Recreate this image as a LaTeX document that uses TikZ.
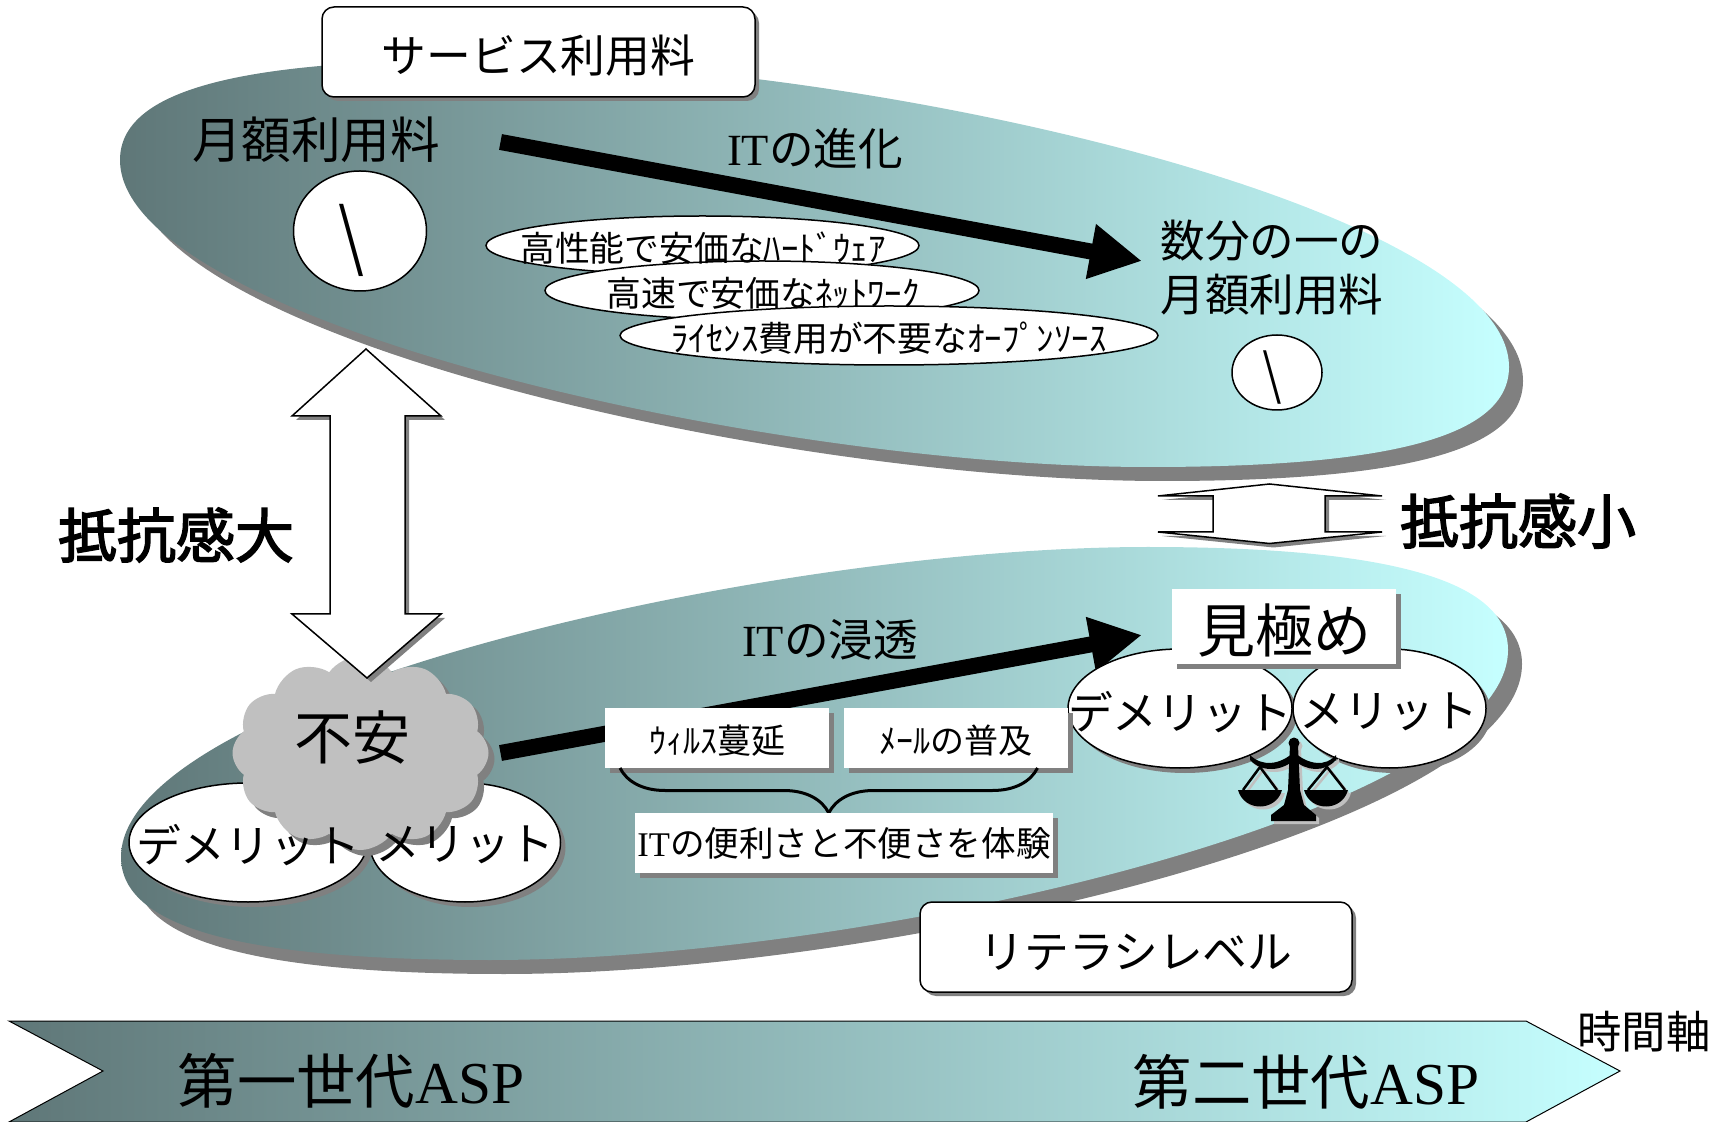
\documentclass[tikz,border=0pt]{standalone}
\usepackage{fontspec}
\setmainfont{Noto Sans CJK JP}
\newfontfamily\latinserif{Liberation Serif}
\newfontfamily\heavycjk[FakeBold=2.5]{Noto Sans CJK JP}
\usetikzlibrary{arrows.meta,shapes.geometric,shapes.symbols,shadows,decorations.pathreplacing}
\definecolor{tealdark}{HTML}{5F7778}
\definecolor{teallight}{HTML}{C6FFFF}
\definecolor{shadowgray}{HTML}{808080}
\definecolor{cloudgray}{HTML}{C0C0C0}
\newcommand{\fs}[1]{\fontsize{#1pt}{#1pt}\selectfont}
\newcommand{\IT}{{\latinserif IT}}
\newcommand{\ASP}{{\latinserif ASP}}
\newcommand{\yenmark}{\scalebox{.8}[1]{\textbackslash}}
\newcommand{\upperblob}{(120,160) .. controls (120,90) and (240,60) .. (480,60) .. controls (869,60) and (1509,207) .. (1509,367) .. controls (1509,437) and (1389,467) .. (1149,467) .. controls (760,467) and (120,320) .. (120,160) -- cycle}
\newcommand{\lowerblob}{(121,857) .. controls (121,927) and (241,960) .. (490,960) .. controls (879,960) and (1508,810) .. (1508,650) .. controls (1508,580) and (1388,547) .. (1148,547) .. controls (759,547) and (121,697) .. (121,857) -- cycle}
\tikzset{
	boxshadow/.style={copy shadow={shadow xshift=#1, shadow yshift=-#1, fill=shadowgray, draw=none}},
	titlebox/.style={draw=black, line width=.75pt, fill=white, rounded corners=6pt, inner sep=0pt, boxshadow=2pt, font=\fs{22.4}, text height=21.5pt, text depth=.5pt},
	notebox/.style={fill=white, inner sep=0pt, boxshadow=2.5pt},
	oval/.style={draw=black, line width=.75pt, ellipse, fill=white, inner sep=0pt},
	hollowarrow/.style={draw=black, line width=.75pt, fill=white, boxshadow=2pt},
	bigarrow/.style={line width=8pt, -{Triangle[length=26pt,width=26pt]}},
}
\begin{document}
\begin{tikzpicture}[x=.5pt,y=-.5pt]
	\useasboundingbox (0,0) rectangle (1730,1122);

	\fill[shadowgray, shift={(14,14)}] \upperblob;
	\shade[left color=tealdark, right color=teallight] \upperblob;

	\fill[shadowgray, shift={(14,14)}] \lowerblob;
	\shade[left color=tealdark, right color=teallight] \lowerblob;

	\node[titlebox, minimum width=216.5pt, minimum height=45pt] (service) at (538.5,52) {サービス利用料};
	\node[titlebox, minimum width=216pt, minimum height=45pt] (literacy) at (1136,947) {リテラシレベル};

	\node[font=\fs{24.8}] (monthly) at (316,140) {月額利用料};
	\node[oval, minimum width=66.5pt, minimum height=60pt] (feeHigh) at (360,231) {};
	\node[font=\latinserif\fs{54}] (feeHighText) at (351,240) {\yenmark};
	\node[font=\fs{22.3}, align=center, text depth=0pt] (fraction) at (1272,266) {数分の一の\\[4.5pt]月額利用料};
	\node[oval, minimum width=45pt, minimum height=37.5pt] (feeLow) at (1277,372.5) {};
	\node[font=\latinserif\fs{40}] (feeLowText) at (1272,378) {\yenmark};

	\coordinate (evoStart) at (500.5,142);
	\coordinate (evoEnd) at (1142,261);
	\draw[bigarrow] (evoStart) -- (evoEnd);
	\node[font=\fs{22.3}] (evoLabel) at (815,149) {\IT の進化};

	\node[oval, minimum width=216.5pt, minimum height=29.5pt] (hard) at (702.5,245.5) {};
	\node[oval, minimum width=217pt, minimum height=29.5pt] (net) at (762,290.5) {};
	\node[oval, minimum width=269pt, minimum height=29.5pt] (oss) at (889,335.5) {};
	\node[font=\fs{17.4}] (hardText) at (703,248) {高性能で安価なﾊｰﾄﾞｳｪｱ};
	\node[font=\fs{17.4}] (netText) at (763,293) {高速で安価なﾈｯﾄﾜｰｸ};
	\node[font=\fs{17.4}] (ossText) at (889,338) {ﾗｲｾﾝｽ費用が不要なｵｰﾌﾟﾝｿｰｽ};

	\draw[hollowarrow] (1269.5,484) -- (1382,496) -- (1325,496) -- (1325,532) -- (1382,532) -- (1269.5,543.5) -- (1158,532) -- (1213,532) -- (1213,496) -- (1158,496) -- cycle;
	\node[font=\heavycjk\fs{29.5}] (resistLow) at (1518,521) {抵抗感小};
	\node[font=\heavycjk\fs{29.5}] (resistHigh) at (176,535) {抵抗感大};

	\coordinate (spreadStart) at (500.5,753);
	\coordinate (spreadEnd) at (1142,635);
	\draw[bigarrow] (spreadStart) -- (spreadEnd);
	\node[font=\fs{22.3}] (spreadLabel) at (830,640) {\IT の浸透};

	\node[oval, minimum width=119pt, minimum height=59.5pt, boxshadow=2.5pt] (demeritA) at (248,842.5) {};
	\node[oval, minimum width=95.5pt, minimum height=59.5pt, boxshadow=2.5pt] (meritA) at (465,842.5) {};
	\node[cloud, cloud puffs=12, cloud puff arc=110, aspect=1.3, fill=cloudgray, inner sep=0pt, minimum width=128pt, minimum height=97pt, boxshadow=3pt] (anxiety) at (360.5,753) {};
	\node[font=\fs{29}] (anxietyText) at (352,737) {不安};
	\node[font=\fs{22.4}] (demeritAText) at (248,845) {デメリット};
	\node[font=\fs{22.4}] (meritAText) at (465,845) {メリット};

	\draw[hollowarrow] (366,349) -- (441,416) -- (405,416) -- (405,614) -- (441,614) -- (367,678) -- (292,614) -- (330,614) -- (330,416) -- (292,416) -- cycle;

	\node[oval, minimum width=112pt, minimum height=59.5pt, boxshadow=2.5pt] (demeritB) at (1180,708.5) {};
	\node[oval, minimum width=96.5pt, minimum height=59.5pt, boxshadow=2.5pt] (meritB) at (1389.5,708.5) {};
	\node[font=\fs{22.4}] (demeritBText) at (1180,712) {デメリット};
	\node[font=\fs{22.4}] (meritBText) at (1389,712) {メリット};

	\foreach \balancecol/\balanceshift in {cloudgray/3,black/0} {
		\begin{scope}[shift={(\balanceshift,\balanceshift)}, \balancecol]
			\fill (1294,743) circle [radius=5.5];
			\fill (1290,745) -- (1298,745) -- (1300,790) -- (1304,805) -- (1316,815) -- (1316,821) -- (1271,821) -- (1271,815) -- (1284,805) -- (1288,790) -- cycle;
			\fill (1250,755) .. controls (1262,767) and (1280,765) .. (1294,752) .. controls (1308,765) and (1326,767) .. (1336,755) -- (1336,760) .. controls (1324,773) and (1306,771) .. (1294,760) .. controls (1282,771) and (1262,773) .. (1250,760) -- cycle;
			\draw[line width=1.25pt] (1243,790) -- (1260,767) -- (1277,790);
			\draw[line width=1.25pt] (1308,790) -- (1327,767) -- (1345,790);
			\fill (1238,790) -- (1282,790) .. controls (1276,812) and (1244,812) .. cycle;
			\fill (1304,790) -- (1348,790) .. controls (1342,812) and (1310,812) .. cycle;
		\end{scope}
	}

	\node[notebox, minimum width=112pt, minimum height=30pt, font=\fs{17}, text height=16.5pt, text depth=.5pt] (virus) at (717,738) {ｳｨﾙｽ蔓延};
	\node[notebox, minimum width=112pt, minimum height=30pt, font=\fs{17}, text height=16.5pt, text depth=.5pt] (mail) at (956,738) {ﾒｰﾙの普及};
	\coordinate (braceStart) at (620,768);
	\coordinate (braceEnd) at (1037.5,768);
	\draw[line width=1.5pt, decorate, decoration={brace, mirror, amplitude=22.5pt, aspect=.5}] (braceStart) -- (braceEnd);
	\node[notebox, minimum width=209pt, minimum height=30pt, font=\fs{17.3}] (experience) at (844,843) {\IT の便利さと不便さを体験};
	\node[notebox, minimum width=112pt, minimum height=37.5pt, font=\fs{29}, text height=27.5pt, text depth=1pt] (judge) at (1284,626.5) {見極め};

	\shade[draw=black, line width=.5pt, left color=tealdark, right color=teallight] (9,1021) -- (1526,1021) -- (1620,1071) -- (1526,1122) -- (9,1122) -- (103,1071) -- cycle;
	\node[font=\fs{29.7}] (firstGen) at (351,1081) {第一世代\ASP};
	\node[font=\fs{29.7}] (secondGen) at (1306,1082) {第二世代\ASP};
	\node[font=\fs{22.2}] (timeAxis) at (1644,1032) {時間軸};
\end{tikzpicture}
\end{document}
